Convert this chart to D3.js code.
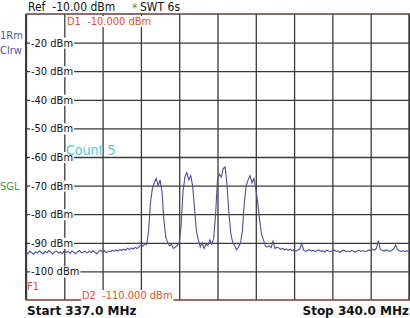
<!DOCTYPE html>
<html>
<head>
<meta charset="utf-8">
<script src="https://cdn.jsdelivr.net/npm/d3@7"></script>
<style>
	body { margin: 0; background: white; }
	svg text { font-family: "DejaVu Sans Condensed", "DejaVu Sans", sans-serif; white-space: pre; }
</style>
</head>
<body>
<svg id="chart" width="410" height="318"></svg>
<script>
/*
 * spectrum trace, 337 - 340 MHz
 */

var START_MHZ = 337.0;
var STOP_MHZ = 340.0;
var REF_DBM = -10;
var BOTTOM_DBM = -110;

// vertical grid, 10 divisions over the span
var gridFreqs = [337.0, 337.3, 337.6, 337.9, 338.2, 338.5, 338.8, 339.1, 339.4, 339.7, 340.0];

// level ticks and their labels
var levelTicks = [-20, -30, -40, -50, -60, -70, -80, -90, -100];
var levelLabels = ["-20 dBm", "-30 dBm", "-40 dBm", "-50 dBm", "-60 dBm", "-70 dBm", "-80 dBm", "-90 dBm", "-100 dBm"];

// trace levels in dBm, one per sweep point
var traceLevels = [
	-93.2, -93.8, -92.9, -93.5, -94.0, -93.1, -93.6, -92.8, -93.4, -93.9,
	-93.0, -93.5, -92.7, -93.3, -93.9, -93.1, -92.9, -93.6, -93.2, -93.8,
	-92.8, -93.4, -93.0, -93.7, -92.9, -93.3, -93.8, -93.1, -92.7, -93.5,
	-93.2, -92.9, -93.6, -93.0, -93.4, -92.8, -93.3, -93.9, -93.0, -92.6,
	-93.2, -92.8, -93.5, -92.9, -93.1, -92.6, -93.0, -92.5, -92.9, -92.3,
	-92.7, -92.2, -92.6, -91.9, -92.4, -91.8, -92.2, -91.6, -92.0, -91.4,
	-90.8, -91.2, -90.4, -90.6,
	-86, -76, -71, -69, -67.5, -70, -68, -72, -82, -88, -90, -91, -90.5, -92, -91.5, -91, -90,
	-84, -72, -67, -65.5, -68, -66.5, -70, -78, -86, -89, -91.5, -90, -92, -90.5, -91, -89, -90.5, -88.5,
	-80, -68, -66, -67, -64, -63.5, -70, -80, -87, -90, -91, -92.5, -91.5, -90,
	-86, -76, -70, -68, -66.5, -69, -67.5, -71, -76, -82, -87, -89, -91, -91.5, -91, -91.7, -89.5, -92, -91.5,
	-91.8, -92.3, -91.9, -92.5, -92.1, -92.6, -92.2, -92.8, -92.4, -92.9, -92.5, -92.1,
	-90.3,
	-92.6, -93.0, -92.7, -92.4, -92.9, -92.6, -93.1, -92.7, -92.5, -93.0,
	-92.8, -93.2, -92.6, -92.9, -93.1, -92.7, -92.5, -93.0, -92.8, -93.3,
	-92.9, -92.6, -93.1, -92.8, -93.2, -92.7, -92.9, -93.3, -92.8, -92.6,
	-93.0, -92.7, -93.1, -92.9, -92.5, -92.8, -92.2, -92.6, -91.9,
	-89.2,
	-92.3, -92.6, -92.9, -92.5, -92.8, -93.0, -92.6, -92.2,
	-90.8,
	-92.4, -92.8, -93.1, -92.7, -93.0, -92.8, -93.2
];

var RED = "#e2502c";
var BLUE = "#4a55a8";
var GRID = "#3a3a3a";

// plot box (not "top", that one belongs to window)
var plotLeft = 26, plotRight = 409, plotTop = 14, plotBottom = 300;

var svg = d3.select("#chart");

var x = d3.scaleLinear()
	.domain([START_MHZ, STOP_MHZ])
	.range([plotLeft, plotRight]);

var y = d3.scaleLinear()
	.domain([BOTTOM_DBM, REF_DBM])
	.range([plotBottom, plotTop]);

// grid from the axes
svg.append("g")
	.attr("transform", "translate(0," + plotBottom + ")")
	.call(d3.axisBottom(x).tickValues(gridFreqs).tickSize(-(plotBottom - plotTop)).tickFormat(""))
	.call(function(g) {
		g.select(".domain").remove();
		g.selectAll("line").attr("stroke", GRID).attr("stroke-width", 1.3);
	});

svg.append("g")
	.attr("transform", "translate(" + plotLeft + ",0)")
	.call(d3.axisLeft(y).tickValues(levelTicks).tickSize(-(plotRight - plotLeft)).tickFormat(""))
	.call(function(g) {
		g.select(".domain").remove();
		g.selectAll("line").attr("stroke", GRID).attr("stroke-width", 1.3);
	});

// frame
svg.append("line")
	.attr("x1", plotLeft).attr("x2", plotLeft)
	.attr("y1", plotTop).attr("y2", plotBottom)
	.attr("stroke", GRID).attr("stroke-width", 2);

svg.append("line")
	.attr("x1", plotRight).attr("x2", plotRight)
	.attr("y1", plotTop).attr("y2", plotBottom)
	.attr("stroke", GRID).attr("stroke-width", 1.3);

// display lines D1 / D2 sit on top and bottom edge
svg.append("line")
	.attr("x1", plotLeft).attr("x2", plotRight + 1)
	.attr("y1", y(-10)).attr("y2", y(-10))
	.attr("stroke", "#6a3a3a").attr("stroke-width", 1.3);

svg.append("line")
	.attr("x1", plotLeft).attr("x2", plotRight + 1)
	.attr("y1", y(-110)).attr("y2", y(-110))
	.attr("stroke", "#7a3a32").attr("stroke-width", 1.6);

// text with a white box behind it
function boxedText(px, py, str, size, color) {
	var g = svg.append("g");
	var t = g.append("text")
		.attr("x", px)
		.attr("y", py)
		.style("font-size", size + "px")
		.style("fill", color)
		.text(str);
	var b = t.node().getBBox();
	g.insert("rect", "text")
		.attr("x", b.x - 1)
		.attr("y", b.y + 1)
		.attr("width", b.width + 2)
		.attr("height", b.height - 2)
		.attr("fill", "white");
	return t;
}

// level labels
for (var i = 0; i < levelTicks.length; i++) {
	boxedText(31, y(levelTicks[i]) + 4, levelLabels[i], 11, "#111");
}

// trace
var line = d3.line()
	.x(function(d, i) { return x(START_MHZ + i * (STOP_MHZ - START_MHZ) / (traceLevels.length - 1)); })
	.y(function(d) { return y(d); });

svg.append("path")
	.datum(traceLevels)
	.attr("d", line)
	.attr("fill", "none")
	.attr("stroke", "#4b4f9c")
	.attr("stroke-width", 1.1);

boxedText(67, 25, "D1  -10.000 dBm", 11, RED);
boxedText(82, 299, "D2  -110.000 dBm", 11, RED);

svg.append("text")
	.attr("x", 27).attr("y", 290)
	.style("font-size", "11px").style("fill", RED)
	.text("F1");

svg.append("text")
	.attr("x", 66).attr("y", 155)
	.style("font-size", "14px").style("fill", "#5cc4dc")
	.text("Count 5");

// header
svg.append("text")
	.attr("x", 28).attr("y", 11)
	.style("font-size", "12px").style("fill", "#111")
	.text("Ref  -10.00 dBm");

svg.append("text")
	.attr("x", 132).attr("y", 12)
	.style("font-size", "12px").style("fill", "#3aa03a")
	.text("*");

svg.append("text")
	.attr("x", 140).attr("y", 11)
	.style("font-size", "12px").style("fill", "#111")
	.text("SWT 6s");

// left side trace info
svg.append("text")
	.attr("x", 0).attr("y", 39)
	.style("font-size", "11px").style("fill", BLUE)
	.text("1Rm");

svg.append("text")
	.attr("x", 0).attr("y", 54)
	.style("font-size", "11px").style("fill", BLUE)
	.text("Clrw");

svg.append("text")
	.attr("x", 0).attr("y", 190)
	.style("font-size", "11px").style("fill", "#3aa03a")
	.text("SGL");

// footer
svg.append("text")
	.attr("x", 27).attr("y", 315)
	.style("font-family", "DejaVu Sans").style("font-weight", "bold")
	.style("font-size", "12px").style("fill", "#111")
	.text("Start 337.0 MHz");

svg.append("text")
	.attr("x", 409).attr("y", 315).attr("text-anchor", "end")
	.style("font-family", "DejaVu Sans").style("font-weight", "bold")
	.style("font-size", "12px").style("fill", "#111")
	.text("Stop 340.0 MHz");
</script>
</body>
</html>
